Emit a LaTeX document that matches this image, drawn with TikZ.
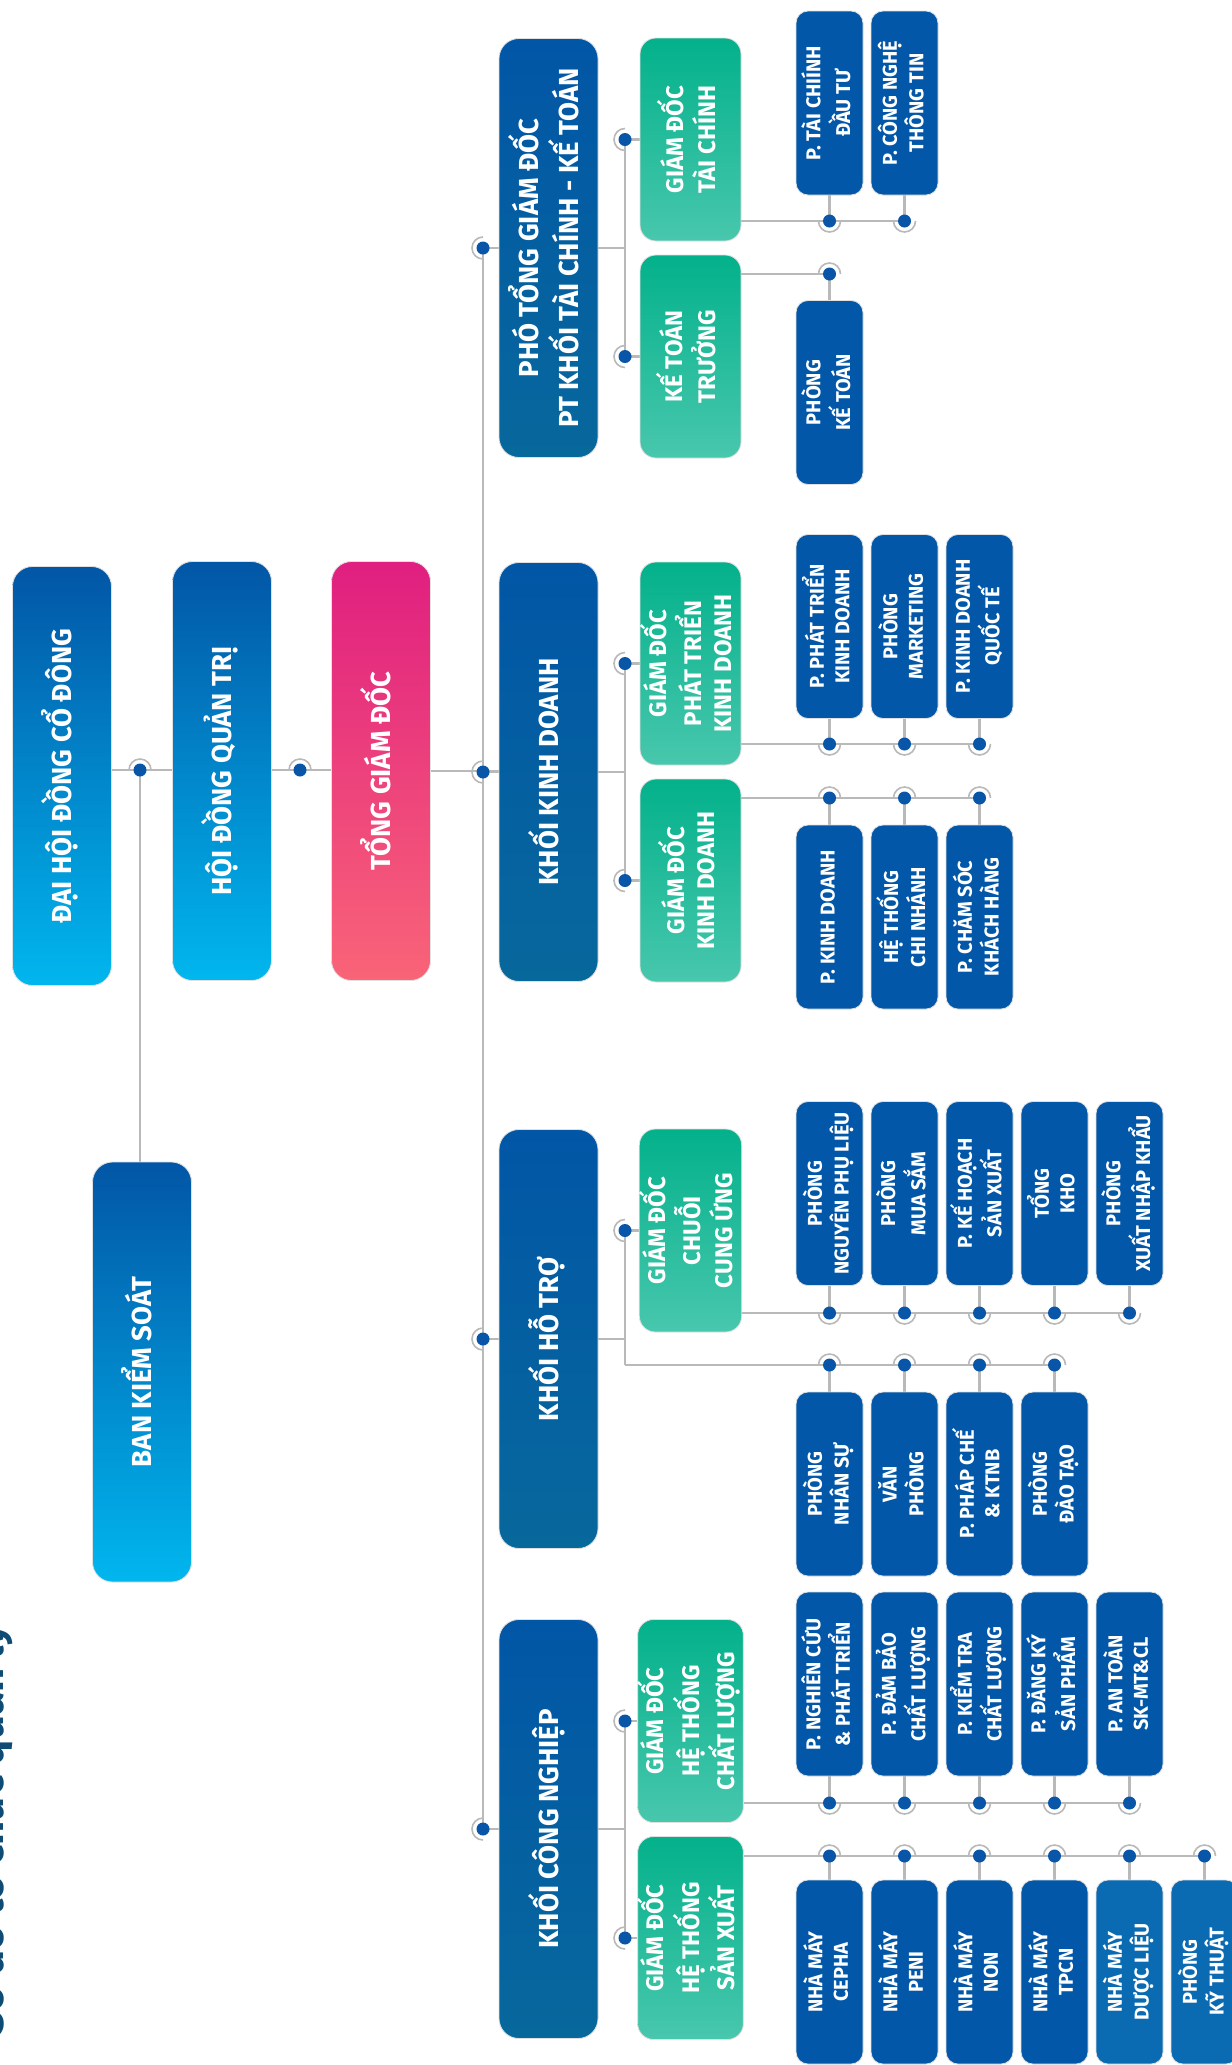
\documentclass[tikz,border=0pt]{standalone}
\usepackage{fontspec}
\setmainfont{Fira Sans}
\usepackage{graphicx}
\definecolor{topA}{RGB}{2,86,166}
\definecolor{topB}{RGB}{1,182,238}
\definecolor{tgdA}{RGB}{224,31,128}
\definecolor{tgdB}{RGB}{249,100,120}
\definecolor{khA}{RGB}{2,86,166}
\definecolor{khB}{RGB}{7,104,156}
\definecolor{grA}{RGB}{3,177,139}
\definecolor{grB}{RGB}{72,199,173}
\definecolor{dep}{RGB}{2,87,168}
\definecolor{depL}{RGB}{10,106,178}
\definecolor{dotc}{RGB}{9,85,168}
\definecolor{linec}{RGB}{185,185,185}
\definecolor{ttlc}{RGB}{14,76,118}
\pgfdeclarelayer{bg}
\pgfsetlayers{bg,main}
\newcommand\rtx[1]{\rotatebox{90}{\begin{tabular}{@{}c@{}}#1\end{tabular}}}
\newcommand\dotat[2]{%
  \draw[halo] (#1) ++(#2-90:11pt) arc[start angle=#2-90,end angle=#2+90,radius=11pt];
  \fill[dotc] (#1) circle[radius=6.5pt];}
\tikzset{
  conn/.style={draw=linec, line width=2.2pt},
  halo/.style={draw=linec, line width=1.6pt},
  box/.style={rectangle, inner sep=0pt, draw=black!12, line width=0.8pt, text=white, align=center},
  big/.style={box, rounded corners=20pt, minimum width=99pt, minimum height=419pt, font=\bfseries\fontsize{27.5}{34}\selectfont},
  topbox/.style={big, top color=topA, bottom color=topB},
  tgdbox/.style={big, top color=tgdA, bottom color=tgdB},
  khbox/.style={big, top color=khA, bottom color=khB},
  grbox/.style={box, rounded corners=16pt, minimum width=101pt, minimum height=203pt, top color=grA, bottom color=grB, font=\bfseries\fontsize{24}{30}\selectfont},
  dept/.style={box, rounded corners=12pt, minimum width=67pt, minimum height=184pt, fill=dep, font=\bfseries\fontsize{20}{25.5}\selectfont},
}
\begin{document}
\begin{tikzpicture}[x=1pt,y=-1pt]
\begin{pgfonlayer}{bg}
\fill[white] (0,0) rectangle (1232,2065);
\end{pgfonlayer}
\useasboundingbox (0,0) rectangle (1232,2065);

\node[rotate=90, anchor=base west, inner sep=0pt, text=ttlc, font=\bfseries\fontsize{42}{50}\selectfont] (ttl) at (3,2036) {Sơ đồ tổ chức quản lý};

% top level
\node[topbox] (dhcd) at (62,776) {\rtx{ĐẠI HỘI ĐỒNG CỔ ĐÔNG}};
\node[topbox] (hdqt) at (222,771) {\rtx{HỘI ĐỒNG QUẢN TRỊ}};
\node[tgdbox] (tgd) at (381,771) {\rtx{TỔNG GIÁM ĐỐC}};
\node[topbox, minimum height=420pt] (bks) at (142,1372) {\rtx{BAN KIỂM SOÁT}};
\node[khbox] (pho) at (548.5,248) {\rtx{PHÓ TỔNG GIÁM ĐỐC\\PT KHỐI TÀI CHÍNH - KẾ TOÁN}};
\node[khbox] (kkd) at (548.5,772) {\rtx{KHỐI KINH DOANH}};
\node[khbox] (kht) at (548.5,1339) {\rtx{KHỐI HỖ TRỢ}};
\node[khbox] (kcn) at (548.5,1829) {\rtx{KHỐI CÔNG NGHIỆP}};

% directors
\node[grbox] (gdtc) at (690.5,139.5) {\rtx{GIÁM ĐỐC\\TÀI CHÍNH}};
\node[grbox] (ktt) at (690.5,356.5) {\rtx{KẾ TOÁN\\TRƯỞNG}};
\node[grbox] (gdpt) at (690.5,663.5) {\rtx{GIÁM ĐỐC\\PHÁT TRIỂN\\KINH DOANH}};
\node[grbox] (gdkd) at (690.5,880.5) {\rtx{GIÁM ĐỐC\\KINH DOANH}};
\node[grbox] (gdcu) at (690.5,1230.5) {\rtx{GIÁM ĐỐC\\CHUỖI\\CUNG ỨNG}};
\node[grbox] (gdcl) at (690.5,1721) {\rtx{GIÁM ĐỐC\\HỆ THỐNG\\CHẤT LƯỢNG}};
\node[grbox] (gdsx) at (690.5,1938) {\rtx{GIÁM ĐỐC\\HỆ THỐNG\\SẢN XUẤT}};

% departments
\foreach \n/\t [count=\i] in {A/{P. TÀI CHIÍNH\\ĐẦU TƯ}, B/{P. CÔNG NGHỆ\\THÔNG TIN}}
  \node[dept] (tc\n) at ({829.5+75*(\i-1)},103) {\rtx{\t}};
\node[dept] (ktA) at (829.5,392.5) {\rtx{PHÒNG\\KẾ TOÁN}};
\foreach \n/\t [count=\i] in {A/{P. PHÁT TRIỂN\\KINH DOANH}, B/{PHÒNG\\MARKETING}, C/{P. KINH DOANH\\QUỐC TẾ}}
  \node[dept] (pk\n) at ({829.5+75*(\i-1)},626.5) {\rtx{\t}};
\foreach \n/\t [count=\i] in {A/{P. KINH DOANH}, B/{HỆ THỐNG\\CHI NHÁNH}, C/{P. CHĂM SÓC\\KHÁCH HÀNG}}
  \node[dept] (kd\n) at ({829.5+75*(\i-1)},917) {\rtx{\t}};
\foreach \n/\t [count=\i] in {A/{PHÒNG\\NGUYÊN PHỤ LIỆU}, B/{PHÒNG\\MUA SẮM}, C/{P. KẾ HOẠCH\\SẢN XUẤT}, D/{TỔNG\\KHO}, E/{PHÒNG\\XUẤT NHẬP KHẨU}}
  \node[dept] (cu\n) at ({829.5+75*(\i-1)},1193.5) {\rtx{\t}};
\foreach \n/\t [count=\i] in {A/{PHÒNG\\NHÂN SỰ}, B/{VĂN\\PHÒNG}, C/{P. PHÁP CHẾ\\\& KTNB}, D/{PHÒNG\\ĐÀO TẠO}}
  \node[dept] (ns\n) at ({829.5+75*(\i-1)},1484) {\rtx{\t}};
\foreach \n/\t [count=\i] in {A/{P. NGHIÊN CỨU\\\& PHÁT TRIỂN}, B/{P. ĐẢM BẢO\\CHẤT LƯỢNG}, C/{P. KIỂM TRA\\CHẤT LƯỢNG}, D/{P. ĐĂNG KÝ\\SẢN PHẨM}, E/{P. AN TOÀN\\SK-MT\&CL}}
  \node[dept] (cl\n) at ({829.5+75*(\i-1)},1684) {\rtx{\t}};
\foreach \n/\t [count=\i] in {A/{NHÀ MÁY\\CEPHA}, B/{NHÀ MÁY\\PENI}, C/{NHÀ MÁY\\NON}, D/{NHÀ MÁY\\TPCN}}
  \node[dept] (sx\n) at ({829.5+75*(\i-1)},1972) {\rtx{\t}};
\node[dept, fill=depL] (sxE) at (1129.5,1972) {\rtx{NHÀ MÁY\\DƯỢC LIỆU}};
\node[dept, fill=depL] (sxF) at (1204.5,1972) {\rtx{PHÒNG\\KỸ THUẬT}};

\begin{pgfonlayer}{bg}
% top connectors
\coordinate (d1) at (140,770);
\coordinate (d2) at (300,770);
\draw[conn] (d1 -| dhcd.east) -- (d1 -| hdqt.west);
\draw[conn] (d2 -| hdqt.east) -- (d2 -| tgd.west);
\draw[conn] (d1) -- (d1 |- bks.north);
\draw[conn] (tgd.east) -- (tgd.east -| kkd.west);
\dotat{d1}{90}
\dotat{d2}{90}
% main spine
\coordinate (s1) at (483,248);
\coordinate (s2) at (483,772);
\coordinate (s3) at (483,1339);
\coordinate (s4) at (483,1829);
\draw[conn] (s1) -- (s4);
\foreach \a/\b in {s1/pho,s2/kkd,s3/kht,s4/kcn} {
  \draw[conn] (\a) -- (\a -| \b.west);
  \dotat{\a}{180}
}
% director spines
\coordinate (g1) at (625,139.5);
\coordinate (g2) at (625,356.5);
\coordinate (g3) at (625,663.5);
\coordinate (g4) at (625,880.5);
\coordinate (g5) at (625,1230.5);
\coordinate (g6) at (625,1721);
\coordinate (g7) at (625,1938);
\coordinate (h1) at (625,1365);
\draw[conn] (pho.east) -- (pho.east -| g1);
\draw[conn] (kkd.east) -- (kkd.east -| g1);
\draw[conn] (kht.east) -- (kht.east -| g1);
\draw[conn] (kcn.east) -- (kcn.east -| g1);
\draw[conn] (g1) -- (g2);
\draw[conn] (g3) -- (g4);
\draw[conn] (g5) -- (h1);
\draw[conn] (g6) -- (g7);
\foreach \a/\b in {g1/gdtc,g2/ktt,g3/gdpt,g4/gdkd,g5/gdcu,g6/gdcl,g7/gdsx} {
  \draw[conn] (\a) -- (\a -| \b.west);
  \dotat{\a}{180}
}
% department rows
\draw[conn] (gdtc.center |- 0,221) -- (tcB.south |- 0,221);
\foreach \n in {A,B} {\draw[conn] (tc\n.south) -- (tc\n.south |- 0,221); \dotat{tc\n.south |- 0,221}{270}}
\draw[conn] (ktt.center |- 0,274) -- (ktA.north |- 0,274);
\draw[conn] (ktA.north) -- (ktA.north |- 0,274); \dotat{ktA.north |- 0,274}{90}
\draw[conn] (gdpt.center |- 0,744) -- (pkC.south |- 0,744);
\foreach \n in {A,B,C} {\draw[conn] (pk\n.south) -- (pk\n.south |- 0,744); \dotat{pk\n.south |- 0,744}{270}}
\draw[conn] (gdkd.center |- 0,798) -- (kdC.north |- 0,798);
\foreach \n in {A,B,C} {\draw[conn] (kd\n.north) -- (kd\n.north |- 0,798); \dotat{kd\n.north |- 0,798}{90}}
\draw[conn] (gdcu.center |- 0,1313) -- (cuE.south |- 0,1313);
\foreach \n in {A,B,C,D,E} {\draw[conn] (cu\n.south) -- (cu\n.south |- 0,1313); \dotat{cu\n.south |- 0,1313}{270}}
\draw[conn] (h1) -- (nsD.north |- h1);
\foreach \n in {A,B,C,D} {\draw[conn] (ns\n.north) -- (ns\n.north |- h1); \dotat{ns\n.north |- h1}{90}}
\draw[conn] (gdcl.center |- 0,1803) -- (clE.south |- 0,1803);
\foreach \n in {A,B,C,D,E} {\draw[conn] (cl\n.south) -- (cl\n.south |- 0,1803); \dotat{cl\n.south |- 0,1803}{270}}
\draw[conn] (gdsx.center |- 0,1856) -- (sxF.north |- 0,1856);
\foreach \n in {A,B,C,D,E,F} {\draw[conn] (sx\n.north) -- (sx\n.north |- 0,1856); \dotat{sx\n.north |- 0,1856}{90}}
\end{pgfonlayer}
\end{tikzpicture}
\end{document}
